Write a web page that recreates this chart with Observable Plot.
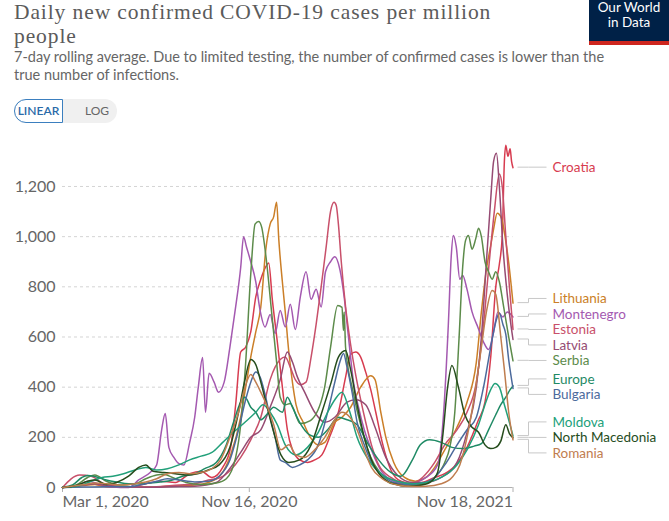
<!DOCTYPE html>
<html>
<head>
<meta charset="utf-8">
<script src="https://cdn.jsdelivr.net/npm/d3@7"></script>
<script src="https://cdn.jsdelivr.net/npm/@observablehq/plot@0.6"></script>
<style>
  html, body { margin: 0; padding: 0; background: #fff; }
  body { width: 669px; height: 521px; overflow: hidden; position: relative; font-family: Lato, "Noto Sans", sans-serif; }
  #title { position: absolute; left: 14px; top: 0px; width: 570px; font-family: "Liberation Serif", serif; font-size: 21.5px; line-height: 24px; letter-spacing: 0.9px; color: #5b5b5b; }
  #subtitle { position: absolute; left: 14px; top: 48px; width: 605px; font-size: 14.5px; line-height: 18px; color: #666; }
  #logo { position: absolute; left: 589px; top: 0; width: 80px; height: 45px; background: #002147; border-bottom: 4px solid #ce261e; box-sizing: border-box; color: #fff; text-align: center; font-size: 13.5px; line-height: 15px; }
  #btns { position: absolute; left: 14px; top: 99px; height: 24px; width: 103px; border-radius: 12px; background: #f0f0f0; font-size: 12px; }
  #btns .lin { position: absolute; left: 0; top: 0; height: 22px; width: 47px; border: 1px solid #3b7fbf; border-radius: 12px 0 0 12px; background: #fff; color: #2a6aa8; line-height: 22px; text-align: center; font-weight: 600; }
  #btns .log { position: absolute; left: 60px; top: 0; height: 24px; width: 46px; color: #666; line-height: 24px; text-align: center; }
  #chart { position: absolute; left: 0; top: 130px; }
</style>
</head>
<body>
<div id="title">Daily new confirmed COVID-19 cases per million<br>people</div>
<div id="subtitle">7-day rolling average. Due to limited testing, the number of confirmed cases is lower than the true number of infections.</div>
<div id="logo"><div>Our World</div><div>in Data</div></div>
<div id="btns"><span class="lin">LINEAR</span><span class="log">LOG</span></div>
<div id="chart"></div>
<script>
// ---- data: [date, daily new confirmed cases per million (7-day avg)] ----
const croatia = [["2020-03-01",0],["2020-03-25",8],["2020-04-10",15],["2020-05-01",3],["2020-06-01",1],["2020-06-25",15],["2020-07-15",25],["2020-08-05",20],["2020-08-25",55],["2020-09-10",65],["2020-09-25",40],["2020-10-10",80],["2020-10-21",160],["2020-10-28",330],["2020-11-04",540],["2020-11-11",560],["2020-11-18",620],["2020-11-25",760],["2020-12-02",830],["2020-12-09",880],["2020-12-13",895],["2020-12-18",750],["2020-12-25",580],["2021-01-01",400],["2021-01-08",230],["2021-01-15",150],["2021-01-25",110],["2021-02-05",100],["2021-02-15",110],["2021-02-25",130],["2021-03-09",210],["2021-03-20",300],["2021-03-30",440],["2021-04-06",530],["2021-04-13",540],["2021-04-20",520],["2021-04-27",460],["2021-05-04",390],["2021-05-11",300],["2021-05-20",180],["2021-06-01",70],["2021-06-15",25],["2021-07-01",15],["2021-07-15",20],["2021-08-01",40],["2021-08-15",55],["2021-09-01",95],["2021-09-15",160],["2021-10-01",270],["2021-10-10",340],["2021-10-18",520],["2021-10-25",800],["2021-10-30",890],["2021-11-03",1000],["2021-11-06",1300],["2021-11-08",1364],["2021-11-11",1320],["2021-11-14",1350],["2021-11-16",1300],["2021-11-18",1275]];
const lithuania = [["2020-03-01",0],["2020-04-01",8],["2020-04-15",12],["2020-05-01",6],["2020-06-01",3],["2020-07-01",2],["2020-08-01",6],["2020-09-01",10],["2020-09-20",20],["2020-10-07",50],["2020-10-21",130],["2020-11-04",280],["2020-11-11",400],["2020-11-18",520],["2020-11-25",620],["2020-12-02",720],["2020-12-09",950],["2020-12-15",1050],["2020-12-20",1080],["2020-12-24",1137],["2020-12-27",990],["2021-01-01",820],["2021-01-05",700],["2021-01-10",540],["2021-01-15",420],["2021-01-20",330],["2021-01-30",260],["2021-02-09",200],["2021-02-20",170],["2021-03-01",180],["2021-03-15",260],["2021-03-25",280],["2021-04-06",320],["2021-04-20",400],["2021-05-04",445],["2021-05-10",430],["2021-05-18",300],["2021-05-25",200],["2021-06-05",100],["2021-06-20",40],["2021-07-05",25],["2021-07-20",40],["2021-08-01",80],["2021-08-15",150],["2021-09-01",240],["2021-09-15",340],["2021-09-28",500],["2021-10-05",700],["2021-10-12",870],["2021-10-18",965],["2021-10-22",1030],["2021-10-27",1093],["2021-11-02",1073],["2021-11-08",980],["2021-11-12",897],["2021-11-18",735]];
const montenegro = [["2020-03-01",0],["2020-03-20",5],["2020-04-05",25],["2020-04-20",15],["2020-05-10",2],["2020-06-01",0],["2020-06-15",30],["2020-07-01",60],["2020-07-10",90],["2020-07-17",230],["2020-07-22",295],["2020-07-27",160],["2020-08-03",120],["2020-08-10",95],["2020-08-17",90],["2020-08-25",180],["2020-09-01",280],["2020-09-06",400],["2020-09-12",518],["2020-09-16",300],["2020-09-21",455],["2020-09-28",420],["2020-10-04",380],["2020-10-12",420],["2020-10-20",560],["2020-10-27",700],["2020-11-04",877],["2020-11-08",1000],["2020-11-12",960],["2020-11-18",900],["2020-11-25",820],["2020-12-01",706],["2020-12-08",640],["2020-12-15",690],["2020-12-22",614],["2020-12-29",706],["2021-01-05",640],["2021-01-12",730],["2021-01-19",630],["2021-01-26",760],["2021-02-03",860],["2021-02-10",750],["2021-02-17",790],["2021-02-24",720],["2021-03-02",860],["2021-03-09",900],["2021-03-15",920],["2021-03-22",870],["2021-03-28",760],["2021-04-03",600],["2021-04-10",420],["2021-04-17",320],["2021-04-25",230],["2021-05-05",150],["2021-05-20",60],["2021-06-05",25],["2021-06-20",15],["2021-07-05",20],["2021-07-20",40],["2021-08-05",90],["2021-08-13",280],["2021-08-20",650],["2021-08-24",920],["2021-08-27",1005],["2021-08-31",960],["2021-09-05",830],["2021-09-09",845],["2021-09-15",790],["2021-09-22",700],["2021-09-30",640],["2021-10-08",580],["2021-10-15",550],["2021-10-22",620],["2021-10-28",700],["2021-11-04",680],["2021-11-10",700],["2021-11-15",690],["2021-11-18",680]];
const estonia = [["2020-03-01",0],["2020-03-25",50],["2020-04-10",45],["2020-05-01",10],["2020-06-01",2],["2020-07-01",2],["2020-08-01",8],["2020-09-01",15],["2020-09-20",30],["2020-10-07",40],["2020-10-21",70],["2020-11-04",120],["2020-11-18",190],["2020-12-02",280],["2020-12-15",430],["2020-12-29",510],["2021-01-05",520],["2021-01-12",480],["2021-01-19",430],["2021-01-26",410],["2021-02-03",420],["2021-02-10",520],["2021-02-17",650],["2021-02-24",800],["2021-03-03",960],["2021-03-09",1100],["2021-03-14",1137],["2021-03-17",1124],["2021-03-20",1050],["2021-03-24",900],["2021-03-30",720],["2021-04-06",570],["2021-04-13",450],["2021-04-20",350],["2021-04-27",260],["2021-05-05",170],["2021-05-15",90],["2021-06-01",40],["2021-06-15",20],["2021-07-01",15],["2021-07-15",40],["2021-08-01",100],["2021-08-15",170],["2021-09-01",230],["2021-09-15",300],["2021-09-28",420],["2021-10-08",650],["2021-10-16",900],["2021-10-23",1100],["2021-10-30",1250],["2021-11-03",1200],["2021-11-08",1000],["2021-11-13",800],["2021-11-18",630]];
const latvia = [["2020-03-01",0],["2020-04-01",10],["2020-04-15",15],["2020-05-01",8],["2020-06-01",3],["2020-07-01",1],["2020-08-01",3],["2020-09-01",5],["2020-10-01",20],["2020-10-21",80],["2020-11-04",140],["2020-11-18",200],["2020-12-02",230],["2020-12-15",320],["2020-12-29",430],["2021-01-08",540],["2021-01-15",500],["2021-01-22",440],["2021-02-01",380],["2021-02-15",300],["2021-03-01",260],["2021-03-15",280],["2021-04-01",340],["2021-04-13",350],["2021-04-27",330],["2021-05-10",240],["2021-05-25",120],["2021-06-10",50],["2021-07-01",20],["2021-07-20",20],["2021-08-10",40],["2021-09-01",100],["2021-09-15",220],["2021-09-28",400],["2021-10-05",600],["2021-10-12",900],["2021-10-18",1150],["2021-10-22",1300],["2021-10-26",1332],["2021-10-30",1200],["2021-11-04",960],["2021-11-10",770],["2021-11-15",650],["2021-11-18",590]];
const serbia = [["2020-03-01",0],["2020-03-20",10],["2020-04-05",40],["2020-04-15",50],["2020-05-01",25],["2020-05-20",10],["2020-06-10",15],["2020-06-25",35],["2020-07-10",50],["2020-07-20",53],["2020-08-01",40],["2020-08-20",20],["2020-09-10",12],["2020-10-01",18],["2020-10-15",35],["2020-10-28",120],["2020-11-04",250],["2020-11-11",500],["2020-11-18",850],["2020-11-24",1050],["2020-11-29",1060],["2020-12-03",1040],["2020-12-10",900],["2020-12-17",700],["2020-12-24",500],["2020-12-29",360],["2021-01-05",330],["2021-01-12",335],["2021-01-26",255],["2021-02-09",267],["2021-02-28",387],["2021-03-09",558],["2021-03-19",726],["2021-03-25",718],["2021-03-27",626],["2021-03-28",700],["2021-03-30",558],["2021-04-09",387],["2021-04-22",227],["2021-05-04",120],["2021-05-18",56],["2021-06-01",16],["2021-07-01",10],["2021-07-15",15],["2021-08-01",40],["2021-08-15",100],["2021-08-22",160],["2021-08-29",300],["2021-09-04",600],["2021-09-09",880],["2021-09-13",985],["2021-09-17",1005],["2021-09-22",950],["2021-09-27",990],["2021-10-01",1033],["2021-10-05",1000],["2021-10-10",900],["2021-10-15",860],["2021-10-20",830],["2021-10-25",860],["2021-10-30",820],["2021-11-05",720],["2021-11-12",600],["2021-11-18",505]];
const europe = [["2020-03-01",1],["2020-03-15",10],["2020-03-28",40],["2020-04-05",48],["2020-04-15",44],["2020-05-01",30],["2020-05-15",22],["2020-06-01",15],["2020-06-15",15],["2020-07-01",18],["2020-07-15",22],["2020-08-01",30],["2020-08-15",45],["2020-09-01",55],["2020-09-15",75],["2020-10-01",100],["2020-10-15",170],["2020-10-25",260],["2020-11-04",340],["2020-11-10",360],["2020-11-18",320],["2020-11-25",300],["2020-12-02",270],["2020-12-10",290],["2020-12-20",320],["2021-01-01",300],["2021-01-08",360],["2021-01-15",320],["2021-01-25",260],["2021-02-08",210],["2021-02-20",200],["2021-03-05",230],["2021-03-20",280],["2021-04-01",270],["2021-04-15",250],["2021-05-01",170],["2021-05-15",110],["2021-06-01",60],["2021-06-15",45],["2021-07-01",110],["2021-07-12",170],["2021-07-25",190],["2021-08-10",180],["2021-08-25",160],["2021-09-10",155],["2021-09-25",165],["2021-10-05",175],["2021-10-15",230],["2021-10-25",290],["2021-11-01",330],["2021-11-08",360],["2021-11-14",390],["2021-11-18",405]];
const bulgaria = [["2020-03-01",0],["2020-04-01",2],["2020-05-01",3],["2020-06-01",3],["2020-06-20",12],["2020-07-10",25],["2020-07-25",35],["2020-08-10",30],["2020-09-01",22],["2020-09-20",25],["2020-10-05",45],["2020-10-20",110],["2020-11-01",230],["2020-11-10",340],["2020-11-18",420],["2020-11-25",460],["2020-12-01",440],["2020-12-08",370],["2020-12-15",280],["2020-12-22",200],["2020-12-29",110],["2021-01-05",100],["2021-01-15",80],["2021-01-25",90],["2021-02-05",110],["2021-02-20",170],["2021-03-05",300],["2021-03-15",420],["2021-03-22",500],["2021-03-27",534],["2021-04-01",480],["2021-04-08",380],["2021-04-15",260],["2021-04-25",170],["2021-05-05",100],["2021-05-20",50],["2021-06-05",20],["2021-06-25",12],["2021-07-15",18],["2021-08-01",40],["2021-08-15",90],["2021-08-30",160],["2021-09-15",230],["2021-09-28",280],["2021-10-08",400],["2021-10-18",560],["2021-10-25",660],["2021-10-30",695],["2021-11-04",650],["2021-11-08",610],["2021-11-12",510],["2021-11-18",395]];
const moldova = [["2020-03-01",0],["2020-03-25",8],["2020-04-10",25],["2020-04-25",40],["2020-05-10",45],["2020-05-25",55],["2020-06-10",70],["2020-06-25",80],["2020-07-10",70],["2020-07-25",75],["2020-08-10",90],["2020-08-25",110],["2020-09-10",125],["2020-09-25",140],["2020-10-10",180],["2020-10-25",220],["2020-11-10",260],["2020-11-25",300],["2020-12-05",330],["2020-12-15",300],["2020-12-25",250],["2021-01-05",170],["2021-01-20",130],["2021-02-05",160],["2021-02-20",220],["2021-03-05",300],["2021-03-15",350],["2021-03-25",380],["2021-04-05",300],["2021-04-15",200],["2021-05-01",110],["2021-05-20",50],["2021-06-10",25],["2021-07-01",15],["2021-07-20",20],["2021-08-10",40],["2021-09-01",90],["2021-09-15",150],["2021-10-01",250],["2021-10-10",330],["2021-10-18",390],["2021-10-24",415],["2021-10-30",400],["2021-11-06",330],["2021-11-12",270],["2021-11-18",205]];
const northMacedonia = [["2020-03-01",0],["2020-03-20",8],["2020-04-05",25],["2020-04-15",30],["2020-05-01",12],["2020-05-15",20],["2020-06-01",45],["2020-06-15",80],["2020-06-25",90],["2020-07-05",65],["2020-07-20",60],["2020-08-05",55],["2020-08-20",50],["2020-09-05",55],["2020-09-20",70],["2020-10-05",90],["2020-10-20",160],["2020-11-01",300],["2020-11-10",430],["2020-11-18",510],["2020-11-25",490],["2020-12-02",420],["2020-12-10",330],["2020-12-20",220],["2020-12-30",130],["2021-01-10",100],["2021-01-25",110],["2021-02-10",170],["2021-02-25",300],["2021-03-10",420],["2021-03-20",520],["2021-03-30",546],["2021-04-06",470],["2021-04-15",330],["2021-04-25",200],["2021-05-05",110],["2021-05-20",40],["2021-06-05",15],["2021-06-25",5],["2021-07-10",8],["2021-07-25",20],["2021-08-05",60],["2021-08-12",200],["2021-08-19",400],["2021-08-25",486],["2021-09-03",400],["2021-09-12",290],["2021-09-22",240],["2021-10-01",220],["2021-10-10",170],["2021-10-18",155],["2021-10-25",160],["2021-11-01",185],["2021-11-08",250],["2021-11-13",215],["2021-11-18",198]];
const romania = [["2020-03-01",0],["2020-04-01",12],["2020-04-15",18],["2020-05-01",15],["2020-05-20",10],["2020-06-10",15],["2020-06-25",22],["2020-07-10",35],["2020-07-25",55],["2020-08-10",60],["2020-08-25",55],["2020-09-10",60],["2020-09-25",75],["2020-10-07",110],["2020-10-20",200],["2020-11-01",300],["2020-11-10",400],["2020-11-18",450],["2020-11-25",420],["2020-12-02",380],["2020-12-10",330],["2020-12-20",250],["2020-12-30",150],["2021-01-10",170],["2021-01-20",130],["2021-02-01",120],["2021-02-15",150],["2021-03-01",200],["2021-03-15",270],["2021-03-25",300],["2021-04-05",280],["2021-04-15",230],["2021-04-25",150],["2021-05-05",80],["2021-05-20",35],["2021-06-10",10],["2021-07-01",4],["2021-07-20",5],["2021-08-10",15],["2021-08-25",40],["2021-09-05",90],["2021-09-15",200],["2021-09-25",360],["2021-10-05",560],["2021-10-12",700],["2021-10-20",785],["2021-10-25",770],["2021-11-01",600],["2021-11-06",470],["2021-11-12",300],["2021-11-18",190]];

const countries = ["Croatia","Lithuania","Montenegro","Estonia","Latvia","Serbia","Europe","Bulgaria","Moldova","North Macedonia","Romania"];
const colors = ["#D73C50","#CB7F28","#A459B0","#C8506A","#964B73","#5C8B4A","#1F8A65","#4C6A9C","#22A07A","#264D1D","#BF7D4F"];
const seriesData = [croatia, lithuania, montenegro, estonia, latvia, serbia, europe, bulgaria, moldova, northMacedonia, romania];
const yTicks = [0, 200, 400, 600, 800, 1000, 1200];
const xTicks = ["2020-03-01", "2020-11-16", "2021-11-18"];

const parse = s => new Date(s + "T00:00:00Z");
const rows = seriesData.flatMap((arr, i) => arr.map(([d, v]) => ({country: countries[i], date: parse(d), value: v})));
const ends = seriesData.map((arr, i) => ({country: countries[i], color: colors[i], date: parse(arr[arr.length - 1][0]), value: arr[arr.length - 1][1]}));
const fmtDate = d3.utcFormat("%b %-d, %Y");
const axisFont = 16;

const chart = Plot.plot({
  width: 669,
  height: 390,
  marginLeft: 62,
  marginRight: 156.5,
  marginTop: 5.8,
  marginBottom: 33,
  x: {type: "utc", domain: [parse(xTicks[0]), parse(xTicks[2])]},
  y: {domain: [0, 1400]},
  color: {domain: countries, range: colors},
  style: {fontFamily: "Lato, sans-serif", fontSize: "16px", color: "#666", background: "#fff", overflow: "visible"},
  marks: [
    Plot.gridY(yTicks.slice(1), {stroke: "#d4d4d4", strokeOpacity: 1, strokeDasharray: "3,3"}),
    Plot.axisY(yTicks, {tickSize: 0, tickPadding: 7, tickFormat: d3.format(","), label: null, fontSize: axisFont, fill: "#666"}),
    Plot.ruleY([0], {stroke: "#b0b0b0"}),
    Plot.axisX([parse(xTicks[0])], {tickSize: 5, stroke: "#b0b0b0", tickPadding: 3, textAnchor: "start", tickFormat: fmtDate, label: null, fontSize: axisFont, fill: "#666"}),
    Plot.axisX([parse(xTicks[1])], {tickSize: 5, stroke: "#b0b0b0", tickPadding: 3, tickFormat: fmtDate, label: null, fontSize: axisFont, fill: "#666"}),
    Plot.axisX([parse(xTicks[2])], {tickSize: 5, stroke: "#b0b0b0", tickPadding: 3, textAnchor: "end", tickFormat: fmtDate, label: null, fontSize: axisFont, fill: "#666"}),
    Plot.line(rows, {x: "date", y: "value", stroke: "country", z: "country", strokeWidth: 1.5, curve: "monotone-x"})
  ]
});
document.getElementById("chart").appendChild(chart);

// ---- end-of-line labels, placed with the chart's own scales ----
(function addLabels() {
  const sx = chart.scale("x"), sy = chart.scale("y");
  const gap = 15.5;
  const items = ends.map(e => ({...e, px: sx.apply(e.date), py: sy.apply(e.value)})).sort((a, b) => a.py - b.py);
  const clusters = items.map(d => [d]);
  const center = c => d3.mean(c, d => d.py);
  let changed = true;
  while (changed) {
    changed = false;
    for (let i = 0; i < clusters.length - 1; i++) {
      const a = clusters[i], b = clusters[i + 1];
      const aBottom = center(a) + (a.length - 1) * gap / 2;
      const bTop = center(b) - (b.length - 1) * gap / 2;
      if (bTop - aBottom < gap) { clusters.splice(i, 2, a.concat(b)); changed = true; break; }
    }
  }
  clusters.forEach(c => { const top = center(c) - (c.length - 1) * gap / 2; c.forEach((d, j) => d.ly = top + j * gap); });
  const g = d3.select(chart).append("g").attr("text-anchor", "start");
  for (const d of items) {
    const x0 = d.px + 5, xe = d.px + 16, x1 = d.px + 34;
    g.append("path").attr("d", `M${x0},${d.py}H${xe}V${d.ly}H${x1}`).attr("fill", "none").attr("stroke", "#c8c8c8").attr("stroke-width", 1);
    g.append("text").attr("x", x1 + 6).attr("y", d.ly).attr("dy", "0.35em").attr("fill", d.color)
      .attr("text-anchor", "start").attr("font-size", 13.5).attr("font-family", "Lato, sans-serif").text(d.country);
  }
})();
</script>
</body>
</html>
